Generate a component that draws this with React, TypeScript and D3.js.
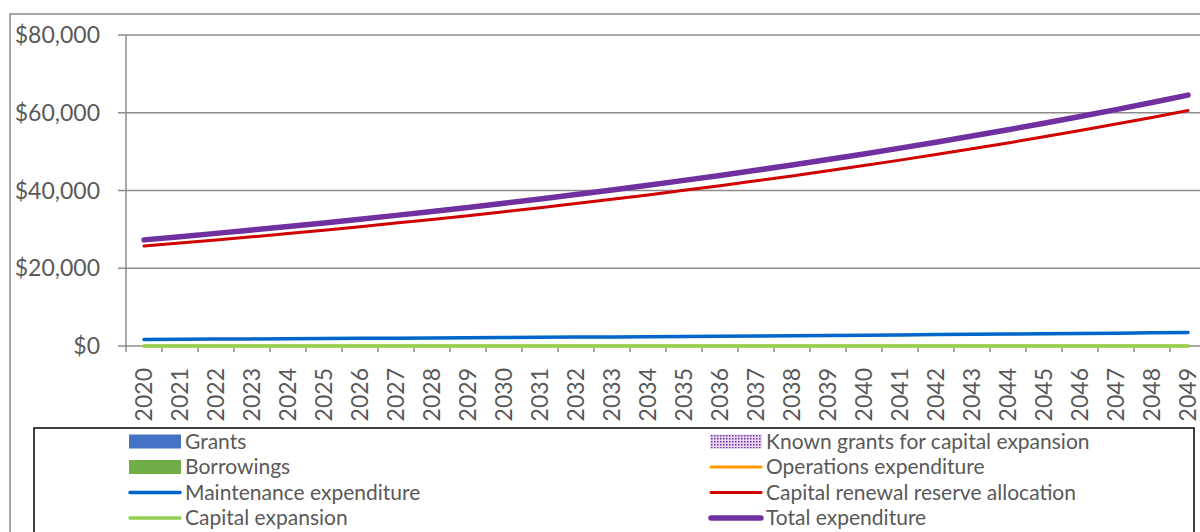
import React, { useRef, useEffect } from 'react';
import * as d3 from 'd3';

const years: string[] = d3.range(2020, 2050).map(String);

const grants: number[] = years.map(() => 0);
const borrowings: number[] = years.map(() => 0);
const knownGrants: number[] = years.map(() => 0);
const operations: number[] = years.map(() => 0);
const capitalExpansion: number[] = years.map(() => 0);

const maintenance: number[] = [
  1700, 1740, 1790, 1830, 1880, 1920, 1970, 2020, 2070, 2120,
  2180, 2230, 2290, 2340, 2400, 2460, 2530, 2590, 2650, 2720,
  2790, 2860, 2930, 3000, 3080, 3150, 3230, 3310, 3400, 3480,
];

const renewal: number[] = [
  25700, 26470, 27270, 28080, 28930, 29790, 30690, 31610, 32560, 33530,
  34540, 35570, 36640, 37740, 38870, 40040, 41240, 42480, 43750, 45060,
  46420, 47810, 49240, 50720, 52240, 53810, 55420, 57090, 58800, 60560,
];

const total: number[] = [
  27300, 28120, 28970, 29840, 30740, 31660, 32620, 33600, 34610, 35650,
  36720, 37830, 38970, 40140, 41350, 42600, 43880, 45200, 46560, 47960,
  49410, 50900, 52430, 54010, 55630, 57310, 59030, 60810, 62640, 64530,
];

const yTicks: number[] = [0, 20000, 40000, 60000, 80000];

const FONT = 'Lato, "Open Sans", sans-serif';
const TEXT = '#595959';

const App: React.FC = () => {
  const ref = useRef<SVGSVGElement | null>(null);

  useEffect(() => {
    if (!ref.current) return;
    const svg = d3.select(ref.current);
    svg.selectAll('*').remove();

    const left = 126;
    const bw = 36;
    const x = d3.scaleBand<string>().domain(years).range([left, left + bw * years.length]);
    const y = d3.scaleLinear().domain([0, 80000]).range([346, 35]);
    const cx = (i: number) => (x(years[i]) as number) + x.bandwidth() / 2;

    // pattern for known grants
    const defs = svg.append('defs');
    const pat = defs.append('pattern').attr('id', 'dots').attr('width', 3).attr('height', 3)
      .attr('patternUnits', 'userSpaceOnUse');
    pat.append('rect').attr('width', 3).attr('height', 3).attr('fill', '#e6d6f2');
    pat.append('rect').attr('width', 1.5).attr('height', 1.5).attr('fill', '#7030A0');

    // outer frame
    svg.append('rect').attr('x', 10).attr('y', 14).attr('width', 1300).attr('height', 600)
      .attr('fill', 'none').attr('stroke', '#8a8a8a').attr('stroke-width', 1.5);

    // gridlines
    svg.append('g').selectAll('line').data(yTicks.filter(d => d > 0)).join('line')
      .attr('x1', left).attr('x2', 1200)
      .attr('y1', d => y(d)).attr('y2', d => y(d))
      .attr('stroke', '#8c8c8c').attr('stroke-width', 1.5);

    // y axis
    const yAxis = svg.append('g');
    yAxis.append('line').attr('x1', left).attr('x2', left).attr('y1', y(80000)).attr('y2', y(0) + 6)
      .attr('stroke', '#8c8c8c').attr('stroke-width', 1.5);
    yAxis.selectAll('line.tk').data(yTicks).join('line').attr('class', 'tk')
      .attr('x1', 118).attr('x2', left).attr('y1', d => y(d)).attr('y2', d => y(d))
      .attr('stroke', '#8c8c8c').attr('stroke-width', 1.5);
    yAxis.selectAll('text').data(yTicks).join('text')
      .attr('x', 100).attr('y', d => y(d)).attr('dy', '0.35em')
      .attr('text-anchor', 'end').attr('font-family', FONT).attr('font-size', 23)
      .attr('fill', TEXT).text(d => '$' + d3.format(',')(d));

    // x axis
    const xAxis = svg.append('g');
    xAxis.append('line').attr('x1', left).attr('x2', 1200).attr('y1', y(0)).attr('y2', y(0))
      .attr('stroke', '#8c8c8c').attr('stroke-width', 1.5);
    xAxis.selectAll('line.tk').data(years.slice(1)).join('line').attr('class', 'tk')
      .attr('x1', d => x(d) as number).attr('x2', d => x(d) as number)
      .attr('y1', y(0)).attr('y2', y(0) + 6)
      .attr('stroke', '#8c8c8c').attr('stroke-width', 1.5);
    xAxis.selectAll('text').data(years).join('text')
      .attr('transform', (d, i) => `translate(${cx(i)},${y(0) + 22}) rotate(-90)`)
      .attr('text-anchor', 'end').attr('dy', '0.36em')
      .attr('font-family', FONT).attr('font-size', 23).attr('fill', TEXT).text(d => d);

    // bars (all zero)
    const bars = svg.append('g');
    [grants, borrowings, knownGrants].forEach((s, k) => {
      bars.selectAll(`rect.b${k}`).data(s).join('rect').attr('class', `b${k}`)
        .attr('x', (d, i) => cx(i) - 8 + k * 5).attr('width', 5)
        .attr('y', d => y(d)).attr('height', d => y(0) - y(d))
        .attr('fill', ['#4472C4', '#70AD47', 'url(#dots)'][k]);
    });

    const line = d3.line<number>().x((d, i) => cx(i)).y(d => y(d));
    const series = [
      { data: operations, color: '#FF9900', w: 3 },
      { data: maintenance, color: '#0066CC', w: 3.5 },
      { data: renewal, color: '#D00000', w: 3 },
      { data: capitalExpansion, color: '#92D050', w: 3.5 },
      { data: total, color: '#7030A0', w: 5.5 },
    ];
    series.forEach(s => {
      svg.append('path').attr('d', line(s.data) as string).attr('fill', 'none')
        .attr('stroke', s.color).attr('stroke-width', s.w)
        .attr('stroke-linecap', 'round').attr('stroke-linejoin', 'round');
    });

    // legend
    const lg = svg.append('g');
    lg.append('rect').attr('x', 34).attr('y', 428).attr('width', 1160).attr('height', 200)
      .attr('fill', 'white').attr('stroke', '#000').attr('stroke-width', 1.5);
    const items = [
      { name: 'Grants', type: 'bar', color: '#4472C4', col: 0, row: 0 },
      { name: 'Known grants for capital expansion', type: 'bar', color: 'url(#dots)', col: 1, row: 0 },
      { name: 'Borrowings', type: 'bar', color: '#70AD47', col: 0, row: 1 },
      { name: 'Operations expenditure', type: 'line', color: '#FF9900', w: 3, col: 1, row: 1 },
      { name: 'Maintenance expenditure', type: 'line', color: '#0066CC', w: 3.5, col: 0, row: 2 },
      { name: 'Capital renewal reserve allocation', type: 'line', color: '#D00000', w: 3, col: 1, row: 2 },
      { name: 'Capital expansion', type: 'line', color: '#92D050', w: 3.5, col: 0, row: 3 },
      { name: 'Total expenditure', type: 'line', color: '#7030A0', w: 5.5, col: 1, row: 3 },
    ];
    items.forEach(it => {
      const sx = it.col === 0 ? 129 : 710;
      const ry = 441.5 + it.row * 25.5;
      if (it.type === 'bar') {
        lg.append('rect').attr('x', sx).attr('y', ry - 7).attr('width', 52).attr('height', 14)
          .attr('fill', it.color);
      } else {
        lg.append('line').attr('x1', sx + 1).attr('x2', sx + 51).attr('y1', ry).attr('y2', ry)
          .attr('stroke', it.color).attr('stroke-width', it.w as number).attr('stroke-linecap', 'round');
      }
      lg.append('text').attr('x', sx + 56).attr('y', ry).attr('dy', '0.35em')
        .attr('font-family', FONT).attr('font-size', 21).attr('fill', TEXT).text(it.name);
    });
  }, []);

  return (
    <svg ref={ref} width={1200} height={532}
      style={{ position: 'absolute', left: 0, top: 0, background: 'white' }} />
  );
};

export default App;
